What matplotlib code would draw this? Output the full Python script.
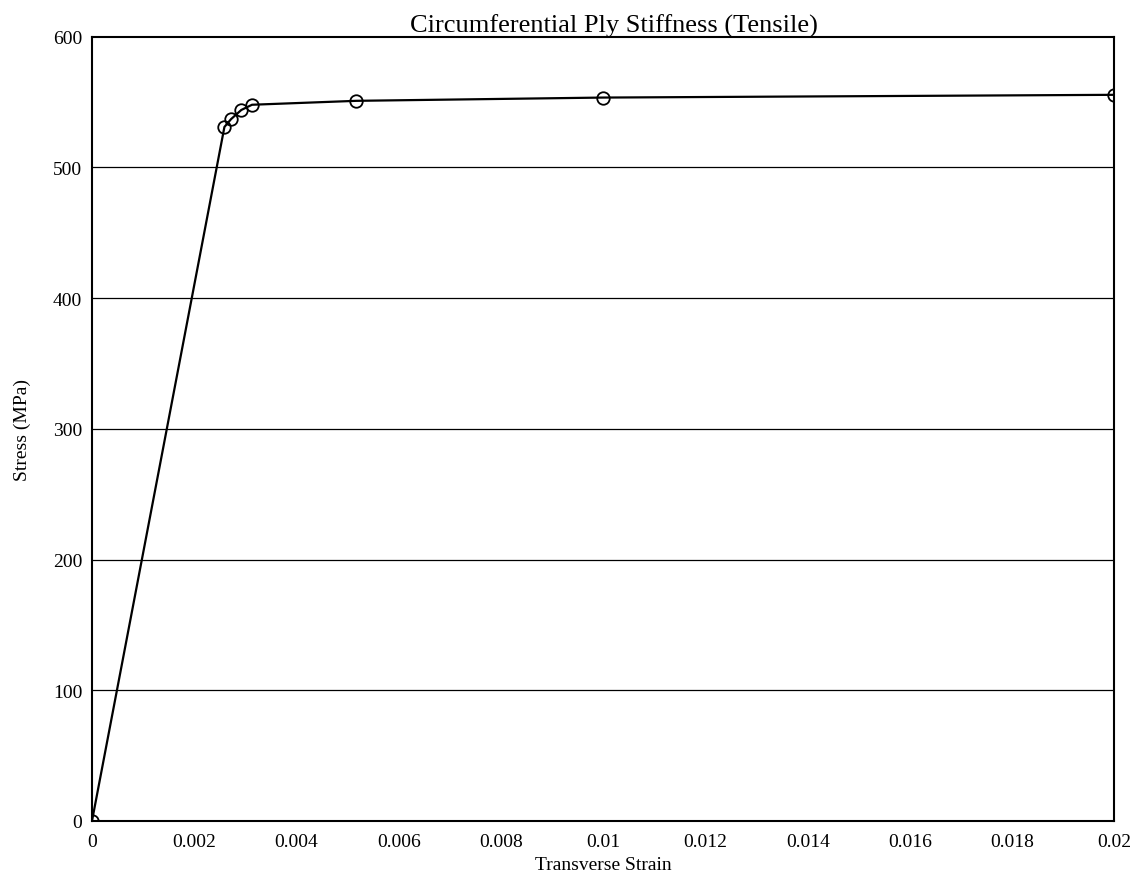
import numpy as np
import matplotlib.pyplot as plt

plt.rcParams['font.family'] = ['Liberation Serif', 'DejaVu Serif']

strain = [0.0, 0.00259, 0.00272, 0.00292, 0.00313, 0.00517, 0.0100, 0.0200]
stress = [0.0, 531, 537, 544, 548, 551, 553.5, 555.6]

x_ticks = [0, 0.002, 0.004, 0.006, 0.008, 0.01, 0.012, 0.014, 0.016, 0.018, 0.02]
x_labels = ['0', '0.002', '0.004', '0.006', '0.008', '0.01', '0.012', '0.014', '0.016', '0.018', '0.02']
y_ticks = [0, 100, 200, 300, 400, 500, 600]

fig = plt.figure(figsize=(11.36, 8.79), dpi=100)
ax = fig.add_axes([0.081, 0.065, 0.900, 0.892])

for y in y_ticks[1:-1]:
    ax.axhline(y, color='black', lw=0.9, zorder=1)

ax.plot(strain, stress, color='black', lw=1.6, marker='o', markersize=9,
        markerfacecolor='none', markeredgecolor='black', markeredgewidth=1.3, zorder=3)

ax.set_xlim(0, 0.02)
ax.set_ylim(0, 600)
ax.set_xticks(x_ticks)
ax.set_xticklabels(x_labels)
ax.set_yticks(y_ticks)
ax.tick_params(axis='x', length=0, labelsize=14, pad=9)
ax.tick_params(axis='y', length=0, labelsize=14, pad=7)
for s in ax.spines.values():
    s.set_linewidth(1.5)

ax.set_title('Circumferential Ply Stiffness (Tensile)', fontsize=19, pad=2, x=0.51)
ax.set_xlabel('Transverse Strain', fontsize=14, labelpad=4)
ax.set_ylabel('Stress (MPa)', fontsize=14, labelpad=16)

fig.savefig('out.png', dpi=100)
